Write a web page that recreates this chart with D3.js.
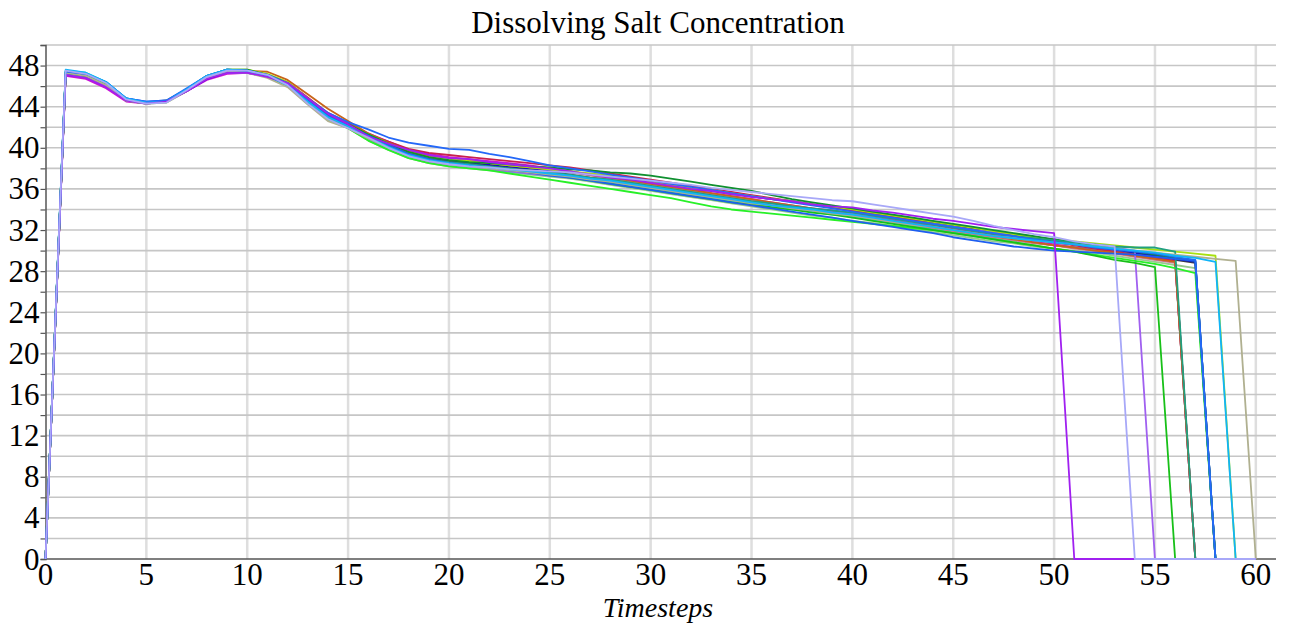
<!DOCTYPE html>
<html>
<head>
<meta charset="utf-8">
<title>Dissolving Salt Concentration</title>
<script src="https://cdnjs.cloudflare.com/ajax/libs/d3/7.8.5/d3.min.js"></script>
<style>
  body { margin: 0; background: #fff; }
  text { font-family: "Liberation Serif", "DejaVu Serif", serif; fill: #000; }
</style>
</head>
<body>
<script>
// tick labels
var xTicks = [0, 5, 10, 15, 20, 25, 30, 35, 40, 45, 50, 55, 60];
var yTicks = [0, 4, 8, 12, 16, 20, 24, 28, 32, 36, 40, 44, 48];
var yGrid = [2, 4, 6, 8, 10, 12, 14, 16, 18, 20, 22, 24, 26, 28, 30, 32, 34, 36, 38, 40, 42, 44, 46, 48, 50];

// one run per line, value at timestep 0..60
var run1 = [0,47.1,46.8,45.9,44.6,44.3,44.5,45.5,46.7,47.3, 47.3,46.9,46.3,44.8,43.3,42.3,41.1,40.4,39.8,39.3, 39.0,38.9,38.6,38.4,38.2,38.0,37.7,37.4,37.1,36.9, 36.6,36.3,36.0,35.8,35.5,35.2,35.0,34.8,34.5,34.3, 34.2,33.9,33.7,33.4,33.1,32.9,32.6,32.3,32.1,31.9, 31.7,0,0,0,0,0,0,0,0,0, 0];
var run2 = [0,47.5,47.2,46.3,44.7,44.3,44.4,45.6,46.9,47.5, 47.5,47.1,46.1,44.3,42.8,41.9,41.0,40.0,39.2,38.7, 38.4,38.2,38.1,37.9,37.8,37.7,37.6,37.4,37.2,37.0, 36.8,36.6,36.4,36.1,35.9,35.7,35.5,35.3,35.1,34.9, 34.8,34.5,34.2,33.9,33.6,33.3,32.9,32.4,32.0,31.6, 31.3,30.9,30.6,30.4,0,0,0,0,0,0, 0];
var run3 = [0,47.2,46.9,46.0,44.6,44.4,44.6,45.7,46.8,47.3, 47.3,46.9,46.0,44.4,42.9,42.0,40.9,40.0,39.1,38.6, 38.3,38.1,37.9,37.7,37.5,37.3,37.1,36.9,36.7,36.4, 36.1,35.8,35.5,35.2,35.0,34.7,34.5,34.3,34.0,33.8, 33.6,33.4,33.1,32.8,32.6,32.3,32.0,31.8,31.6,31.3, 31.1,30.8,30.5,30.3,30.0,0,0,0,0,0, 0];
var run4 = [0,47.3,47.0,46.2,44.7,44.4,44.5,45.6,46.8,47.4, 47.4,47.0,46.2,44.6,43.1,42.2,41.1,40.2,39.3,38.8, 38.5,38.3,38.1,37.9,37.6,37.4,37.1,36.8,36.5,36.2, 35.9,35.6,35.3,35.0,34.7,34.5,34.2,34.0,33.7,33.5, 33.2,32.9,32.6,32.3,32.0,31.7,31.4,31.1,30.8,30.5, 30.2,29.9,29.5,29.1,28.8,28.4,0,0,0,0, 0];
var run5 = [0,47.3,47.1,46.3,44.8,44.4,44.5,45.6,46.9,47.5, 47.4,47.0,46.1,44.5,43.0,42.1,41.1,40.2,39.4,38.9, 38.6,38.4,38.2,38.0,37.8,37.6,37.4,37.1,36.9,36.6, 36.3,36.0,35.7,35.4,35.1,34.8,34.6,34.3,34.1,33.9, 33.7,33.4,33.1,32.8,32.5,32.2,31.9,31.6,31.4,31.2, 31.0,30.8,30.6,30.4,30.3,30.3,29.9,0,0,0, 0];
var run6 = [0,47.2,47.0,46.1,44.6,44.3,44.5,45.6,46.9,47.5, 47.4,47.0,46.3,44.7,43.2,42.3,41.3,40.5,39.7,39.2, 38.9,38.7,38.5,38.3,38.1,37.9,37.6,37.3,37.0,36.7, 36.4,36.1,35.8,35.5,35.2,34.9,34.6,34.3,34.0,33.7, 33.4,33.1,32.8,32.5,32.2,31.9,31.6,31.3,31.0,30.7, 30.5,30.2,30.0,29.7,29.4,29.1,28.8,0,0,0, 0];
var run7 = [0,47.4,47.2,46.4,44.8,44.5,44.6,45.7,47.0,47.6, 47.5,47.1,46.2,44.6,43.1,42.2,41.2,40.3,39.4,38.9, 38.5,38.3,38.1,37.8,37.6,37.3,37.1,36.8,36.5,36.2, 35.9,35.6,35.3,35.0,34.7,34.4,34.1,33.8,33.5,33.2, 32.9,32.6,32.3,32.0,31.7,31.3,31.0,30.7,30.4,30.2, 30.0,29.9,29.8,29.7,29.6,29.4,29.2,29.0,0,0, 0];
var run8 = [0,47.6,47.3,46.4,44.8,44.4,44.5,45.7,47.0,47.6, 47.5,47.0,46.1,44.5,43.0,42.1,41.1,40.1,39.3,38.8, 38.5,38.3,38.1,37.9,37.7,37.5,37.3,37.0,36.8,36.5, 36.2,35.9,35.6,35.3,35.0,34.7,34.4,34.2,34.0,33.7, 33.5,33.2,32.9,32.6,32.3,32.0,31.7,31.4,31.2,31.0, 30.8,30.6,30.4,30.2,30.0,29.8,29.5,29.3,28.9,0, 0];
var run9 = [0,47.3,47.0,46.1,44.6,44.3,44.4,45.5,46.8,47.4, 47.3,46.8,45.9,44.2,42.6,41.9,40.9,40.0,39.2,38.7, 38.4,38.2,38.0,37.8,37.6,37.4,37.2,36.9,36.7,36.4, 36.1,35.8,35.5,35.2,34.9,34.6,34.4,34.1,33.9,33.6, 33.4,33.1,32.8,32.5,32.3,32.0,31.7,31.4,31.2,31.0, 30.8,30.6,30.4,30.2,30.0,29.8,29.6,29.4,29.2,29.0, 0];
var run10 = [0,47.3,47.0,46.2,44.6,44.3,44.5,45.6,46.8,47.4, 47.4,47.0,46.0,44.4,42.8,41.9,40.7,39.8,39.0,38.5, 38.2,38.0,37.8,37.5,37.2,36.9,36.6,36.3,36.0,35.7, 35.4,35.1,34.7,34.3,34.0,33.8,33.6,33.4,33.2,33.0, 32.8,32.6,32.4,32.2,32.0,31.7,31.4,31.1,30.8,30.5, 30.2,29.9,29.6,29.3,29.0,28.7,28.3,27.8,0,0, 0];
var run11 = [0,47.1,46.9,46.1,44.7,44.4,44.5,45.5,46.7,47.3, 47.3,47.0,46.2,44.6,43.1,42.2,41.2,40.4,39.6,39.1, 38.8,38.6,38.4,38.2,38.0,37.8,37.6,37.4,37.2,36.9, 36.6,36.3,36.0,35.8,35.5,35.3,35.0,34.8,34.5,34.2, 33.9,33.6,33.3,33.0,32.7,32.4,32.1,31.8,31.5,31.2, 30.9,30.6,30.3,30.1,29.8,29.5,29.2,28.9,0,0, 0];
var run12 = [0,47.2,47.0,46.2,44.7,44.4,44.5,45.6,46.9,47.5, 47.5,47.4,46.6,45.2,43.8,42.6,41.4,40.5,39.7,39.2, 38.9,38.7,38.5,38.3,38.1,37.9,37.7,37.4,37.1,36.8, 36.5,36.2,35.9,35.6,35.3,35.0,34.7,34.4,34.1,33.8, 33.5,33.2,32.9,32.6,32.3,32.0,31.7,31.4,31.1,30.8, 30.5,30.3,30.0,29.8,29.5,29.2,28.9,0,0,0, 0];
var run13 = [0,47.4,47.1,46.3,44.7,44.4,44.6,45.7,47.0,47.6, 47.6,47.2,46.4,44.8,43.3,42.3,41.3,40.4,39.6,39.1, 38.9,38.7,38.5,38.3,38.1,37.9,37.7,37.5,37.3,37.0, 36.7,36.4,36.1,35.9,35.6,35.3,35.0,34.8,34.5,34.3, 34.0,33.7,33.4,33.1,32.8,32.5,32.2,31.9,31.6,31.3, 31.1,30.9,30.7,30.5,30.3,30.1,29.9,29.7,29.5,0, 0];
var run14 = [0,47.0,46.7,45.8,44.5,44.3,44.5,45.5,46.6,47.2, 47.3,47.0,46.3,44.7,43.2,42.4,41.4,40.6,39.8,39.4, 39.1,38.9,38.7,38.5,38.3,38.0,37.7,37.4,37.1,36.8, 36.5,36.2,35.9,35.6,35.3,35.0,34.7,34.4,34.1,33.9, 33.6,33.3,33.0,32.7,32.4,32.1,31.8,31.5,31.2,30.9, 30.6,30.3,30.0,29.8,29.5,29.2,29.0,0,0,0, 0];
var run15 = [0,47.3,47.0,46.2,44.7,44.4,44.5,45.6,46.9,47.6, 47.6,47.1,46.3,44.7,43.2,42.3,41.3,40.4,39.6,39.1, 38.8,38.6,38.5,38.4,38.2,38.1,37.9,37.8,37.6,37.5, 37.3,37.0,36.7,36.4,36.1,35.8,35.4,35.0,34.7,34.4, 34.1,33.8,33.5,33.2,32.9,32.6,32.3,32.0,31.7,31.4, 31.1,30.8,30.5,30.2,29.9,29.6,29.3,29.0,0,0, 0];
var run16 = [0,47.5,47.3,46.4,44.8,44.4,44.5,45.7,47.0,47.6, 47.5,47.0,46.0,44.3,42.8,42.0,40.8,39.9,39.1,38.6, 38.3,38.1,37.9,37.7,37.5,37.3,37.1,36.9,36.6,36.3, 36.0,35.7,35.4,35.1,34.8,34.5,34.3,34.0,33.8,33.5, 33.3,33.0,32.7,32.4,32.1,31.8,31.5,31.2,31.0,30.8, 30.6,30.3,30.1,29.9,29.6,29.3,29.0,0,0,0, 0];
var run17 = [0,47.4,47.2,46.4,44.8,44.5,44.6,45.8,47.0,47.6, 47.5,47.1,46.3,44.8,43.4,42.5,41.8,41.0,40.5,40.2, 39.9,39.8,39.4,39.1,38.7,38.3,38.0,37.7,37.4,37.1, 36.8,36.5,36.2,35.9,35.6,35.3,35.0,34.7,34.4,34.1, 33.8,33.5,33.2,32.9,32.6,32.3,32.0,31.7,31.4,31.1, 30.8,30.6,30.3,30.1,29.9,29.7,29.4,29.1,0,0, 0];
var run18 = [0,47.2,46.9,46.1,44.6,44.4,44.5,45.6,46.8,47.4, 47.4,47.1,46.4,44.9,43.4,42.4,41.3,40.6,39.9,39.5, 39.3,39.1,38.9,38.7,38.5,38.3,38.1,37.8,37.5,37.2, 36.9,36.6,36.3,36.0,35.7,35.4,35.1,34.8,34.5,34.2, 33.9,33.6,33.3,33.0,32.6,32.3,32.0,31.7,31.4,31.1, 30.8,30.5,30.2,29.9,29.6,29.3,29.0,0,0,0, 0];
var run19 = [0,47.2,47.0,46.2,44.7,44.4,44.5,45.6,46.8,47.4, 47.4,47.0,46.2,44.6,43.1,42.2,41.2,40.3,39.5,39.0, 38.7,38.5,38.3,38.1,37.9,37.7,37.4,37.1,36.9,36.6, 36.3,36.0,35.7,35.4,35.1,34.8,34.5,34.2,33.9,33.6, 33.4,33.1,32.8,32.5,32.3,32.0,31.7,31.4,31.1,30.8, 30.5,30.3,30.1,29.9,29.7,29.4,29.1,28.8,0,0, 0];
var run20 = [0,47.4,47.1,46.2,44.6,44.3,44.4,45.5,46.8,47.4, 47.3,46.9,46.0,44.3,42.7,41.9,40.7,39.8,39.0,38.5, 38.2,38.0,37.8,37.6,37.4,37.2,37.0,36.7,36.4,36.1, 35.8,35.5,35.2,34.9,34.6,34.3,34.0,33.7,33.4,33.2, 32.9,32.7,32.4,32.1,31.8,31.5,31.2,30.9,30.7,30.4, 30.2,30.0,29.8,29.5,29.2,28.9,28.6,28.3,0,0, 0];

var runs = [run20, run19, run16, run14, run11, run6, run18, run12, run3, run13,
            run15, run10, run4, run5, run7, run9, run17, run8, run1, run2];
var runColors = ["#98c890", "#404040", "#10d0d0", "#d010d0", "#1010c8", "#c87890", "#c82050", "#c86418", "#a060f0", "#a8e010",
                 "#109030", "#28f028", "#18c018", "#20a080", "#1e5ef0", "#b0b090", "#2468f8", "#10b4f8", "#a020f0", "#a8a8f8"];

var W = 1295, H = 624;
var margin = {left: 45.5, right: 19, top: 45, bottom: 65};

var svg = d3.select("body").append("svg")
    .attr("width", W)
    .attr("height", H);

var x = d3.scaleLinear().domain([0, 61]).range([margin.left, W - margin.right]);
var y = d3.scaleLinear().domain([0, 50]).range([H - margin.bottom, margin.top]);

// grid
svg.append("g").selectAll("line").data(xTicks.slice(1)).enter().append("line")
    .attr("x1", function(d) { return x(d); })
    .attr("x2", function(d) { return x(d); })
    .attr("y1", y(50))
    .attr("y2", y(0))
    .attr("stroke", "#dedede")
    .attr("stroke-width", 2.5);

svg.append("g").selectAll("line").data(yGrid).enter().append("line")
    .attr("x1", x(0))
    .attr("x2", x(61))
    .attr("y1", function(d) { return y(d); })
    .attr("y2", function(d) { return y(d); })
    .attr("stroke", "#c6c6c6")
    .attr("stroke-width", 1.6);

// axes
var yAxis = d3.axisLeft(y).tickValues(yGrid.concat([0])).tickSize(5).tickFormat("");
var ga = svg.append("g").attr("transform", "translate(" + x(0) + ",0)").call(yAxis);
ga.select(".domain").attr("stroke", "#555").attr("stroke-width", 1.5);
ga.selectAll(".tick line").attr("stroke", "#555").attr("stroke-width", 1.2);

svg.append("line")
    .attr("x1", x(0)).attr("x2", x(61))
    .attr("y1", y(0)).attr("y2", y(0))
    .attr("stroke", "#555").attr("stroke-width", 1.5);

// lines
var line = d3.line()
    .x(function(d, i) { return x(i); })
    .y(function(d) { return y(d); });

svg.append("g").selectAll("path").data(runs).enter().append("path")
    .attr("d", line)
    .attr("fill", "none")
    .attr("stroke", function(d, i) { return runColors[i]; })
    .attr("stroke-width", 1.8)
    .attr("stroke-linejoin", "round");

// tick labels
svg.append("g").selectAll("text").data(yTicks).enter().append("text")
    .attr("x", x(0) - 6)
    .attr("y", function(d) { return y(d); })
    .attr("dy", "0.34em")
    .attr("text-anchor", "end")
    .style("font-size", "31px")
    .text(function(d) { return d; });

svg.append("g").selectAll("text").data(xTicks).enter().append("text")
    .attr("x", function(d) { return x(d); })
    .attr("y", 585)
    .attr("text-anchor", "middle")
    .style("font-size", "31px")
    .text(function(d) { return d; });

svg.append("text")
    .attr("x", 658)
    .attr("y", 617)
    .attr("text-anchor", "middle")
    .style("font-size", "28px")
    .style("font-style", "italic")
    .text("Timesteps");

svg.append("text")
    .attr("x", 658)
    .attr("y", 33)
    .attr("text-anchor", "middle")
    .style("font-size", "31px")
    .text("Dissolving Salt Concentration");
</script>
</body>
</html>
